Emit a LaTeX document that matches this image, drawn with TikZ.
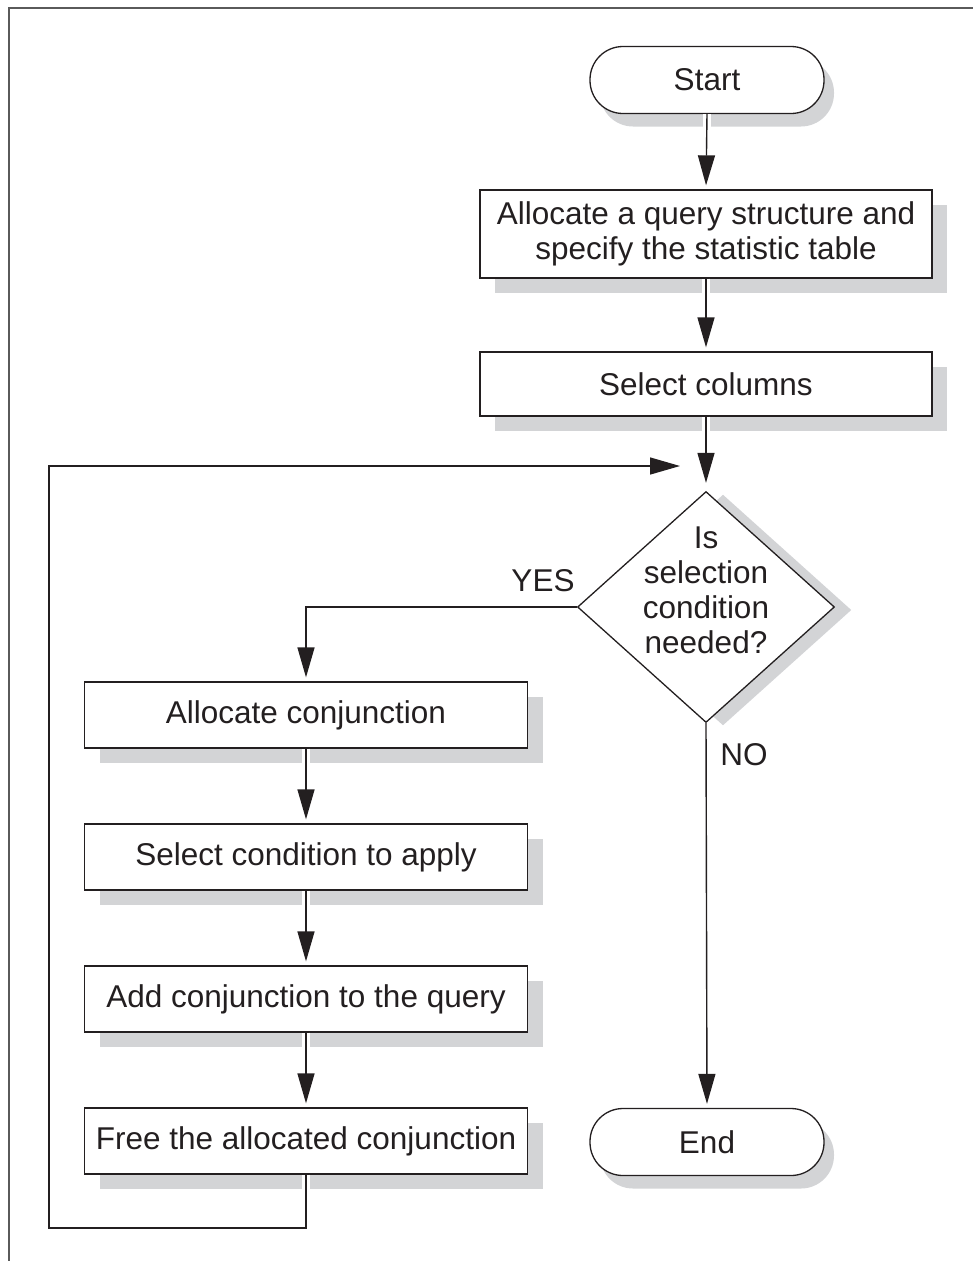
\documentclass[tikz,border=0pt]{standalone}
\usepackage{fontspec}
\setmainfont{Liberation Sans}
\usetikzlibrary{shapes.geometric,shadows,arrows.meta}
\definecolor{shade}{RGB}{211,212,214}
\definecolor{txt}{RGB}{35,31,32}
\definecolor{framecol}{RGB}{90,90,90}
\begin{document}
\begin{tikzpicture}[x=1pt,y=-1pt,
  font=\fontsize{31.5}{35}\selectfont,
  box/.style={draw=txt, text=txt, line width=1.3pt, fill=white, inner sep=0pt, align=center,
     drop shadow={shadow xshift=15pt, shadow yshift=-15pt, fill=shade, opacity=1}},
  widebox/.style={box, minimum width=452pt},
  leftbox/.style={box, minimum width=443pt, minimum height=66pt},
  term/.style={draw=txt, text=txt, line width=1.3pt, fill=white, rounded corners=33pt,
     minimum width=234pt, minimum height=67pt, inner sep=0pt,
     drop shadow={shadow xshift=10pt, shadow yshift=-13pt, fill=shade, opacity=1}},
  decision/.style={diamond, draw=txt, line width=1.3pt, fill=white, minimum width=257pt,
     minimum height=231pt, inner sep=0pt,
     drop shadow={shadow xshift=17pt, shadow yshift=-3pt, fill=shade, opacity=1}},
  conn/.style={draw=txt, line width=1.4pt},
  arr/.style={conn, -{Triangle[length=30pt,width=17pt]}, shorten >=4pt},
  halo/.style={draw=white, line width=8pt},
  lbl/.style={text=txt, inner sep=0pt}
]
\useasboundingbox (0,0) rectangle (973,1261);
% frame
\draw[framecol, line width=2pt] (9,1261) -- (9,8) -- (973,8);

% nodes
\node[term] (start) at (707,80) {Start};
\node[widebox, minimum height=88pt] (alloc) at (706,234) {Allocate a query structure and\\specify the statistic table};
\node[widebox, minimum height=64pt] (selcol) at (706,384) {Select columns};
\node[decision] (dec) at (706,607) {};
\node[lbl, align=center] (dectxt) at (706,590) {Is\\selection\\condition\\needed?};
\node[leftbox] (acj) at (306,715) {Allocate conjunction};
\node[leftbox] (sca) at (306,857) {Select condition to apply};
\node[leftbox] (add) at (306,999) {Add conjunction to the query};
\node[leftbox] (free) at (306,1141) {Free the allocated conjunction};
\node[term] (end) at (707,1142) {End};
\node[lbl] (yes) at (543,581) {YES};
\node[lbl] (no) at (744,755) {NO};
\coordinate (merge) at (706,466);

% white gaps through the shadows
\draw[halo] (start.south) -- ++(0,14);
\draw[halo] (alloc.south) -- ++(0,17);
\draw[halo] (selcol.south) -- ++(0,17);
\draw[halo] (acj.south) -- ++(0,17);
\draw[halo] (sca.south) -- ++(0,17);
\draw[halo] (add.south) -- ++(0,17);
\draw[halo] (free.south) -- ++(0,17);

% connectors
\draw[arr] (start.south) -- (alloc.north);
\draw[arr] (alloc.south) -- (selcol.north);
\draw[arr, shorten >=8pt] (selcol.south) -- (dec.north);
\draw[arr] (dec.west) -| (acj.north);
\draw[arr] (acj.south) -- (sca.north);
\draw[arr] (sca.south) -- (add.north);
\draw[arr] (add.south) -- (free.north);
\draw[arr] (dec.south) -- (end.north);
\draw[arr, shorten >=26pt] (free.south) |- (49,1228) |- (merge);
\end{tikzpicture}
\end{document}
